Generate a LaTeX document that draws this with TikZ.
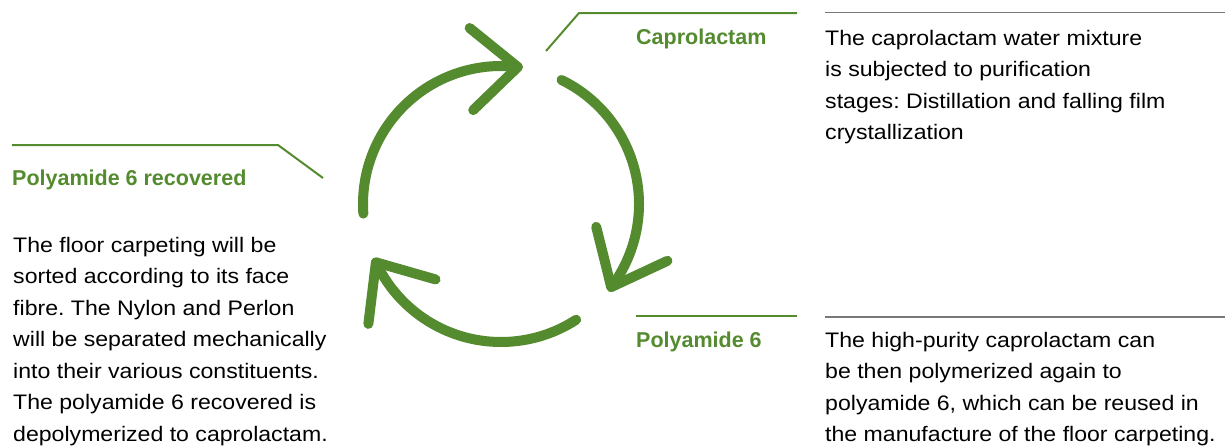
\documentclass[tikz,border=0pt]{standalone}
\usepackage{fontspec}
\setmainfont{Liberation Sans}[FakeStretch=1.1]
\newfontfamily\headfont{Liberation Sans}[BoldFont={Liberation Sans Bold}]
\usetikzlibrary{calc}
\definecolor{cgreen}{RGB}{85,139,47}
\definecolor{cgray}{RGB}{120,120,120}
\frenchspacing
\tikzset{
  bodytext/.style={anchor=north west, inner sep=0pt, align=left, text=black,
    font=\frenchspacing\fontsize{21}{31.5}\selectfont},
  headtext/.style={anchor=base west, inner sep=0pt, text=cgreen,
    font=\headfont\bfseries\fontsize{21.5}{26}\selectfont},
  leader/.style={draw=cgreen, line width=2pt},
  rule/.style={draw=cgray, line width=1.5pt},
  cyc/.style={draw=cgreen, line width=10pt, line cap=round, line join=round},
}
\begin{document}
\begin{tikzpicture}[x=1pt,y=1pt]
\useasboundingbox (0,0) rectangle (1225,-447);
\coordinate (c) at (501,-204);
\def\R{138}
\def\L{62}
% arc 1
\coordinate (s1) at ($(c)+(184:\R)$);
\coordinate (t1) at ($(c)+(83:\R)$);
\draw[cyc] (s1) arc[start angle=184, end angle=83, radius=\R];
\draw[cyc] ($(t1)+(141:\L)$) -- (t1) -- ($(t1)+(224:\L)$);
% arc 2
\coordinate (s2) at ($(c)+(64:\R)$);
\coordinate (t2) at ($(c)+(-37:\R)$);
\draw[cyc] (s2) arc[start angle=64, end angle=-37, radius=\R];
\draw[cyc] ($(t2)+(25:\L)$) -- (t2) -- ($(t2)+(104:\L)$);
% arc 3
\coordinate (s3) at ($(c)+(-57:\R)$);
\coordinate (t3) at ($(c)+(-155:\R)$);
\draw[cyc] (s3) arc[start angle=-57, end angle=-155, radius=\R];
\draw[cyc] ($(t3)+(-97:\L)$) -- (t3) -- ($(t3)+(-16:\L)$);

% leaders
\coordinate (l1a) at (12,-145);
\coordinate (l1b) at (278,-145);
\coordinate (l1c) at (323,-178);
\draw[leader] (l1a) -- (l1b) -- (l1c);
\coordinate (l2a) at (546,-51);
\coordinate (l2b) at (579,-13);
\coordinate (l2c) at (797,-13);
\draw[leader] (l2a) -- (l2b) -- (l2c);
\coordinate (l3a) at (636,-316);
\coordinate (l3b) at (797,-316);
\draw[leader] (l3a) -- (l3b);
\coordinate (r1a) at (825,-12.5);
\coordinate (r1b) at (1225,-12.5);
\draw[rule] (r1a) -- (r1b);
\coordinate (r2a) at (825,-317);
\coordinate (r2b) at (1225,-317);
\draw[rule] (r2a) -- (r2b);

% headings
\node[headtext] (hrec) at (12,-185) {Polyamide 6 recovered};
\node[headtext] (hcap) at (636,-44) {Caprolactam};
\node[headtext] (hpa) at (636,-347) {Polyamide 6};

% body texts
\node[bodytext] (tleft) at (13,-237) {The floor carpeting will be\\sorted according to its face\\fibre. The Nylon and Perlon\\will be separated mechanically\\into their various constituents.\\The polyamide 6 recovered is\\depolymerized to caprolactam.};
\node[bodytext] (tcap) at (825,-30) {The caprolactam water mixture\\is subjected to purification\\stages: Distillation and falling film\\crystallization};
\node[bodytext] (tpa) at (825,-332) {The high-purity caprolactam can\\be then polymerized again to\\polyamide 6, which can be reused in\\the manufacture of the floor carpeting.};
\end{tikzpicture}
\end{document}
